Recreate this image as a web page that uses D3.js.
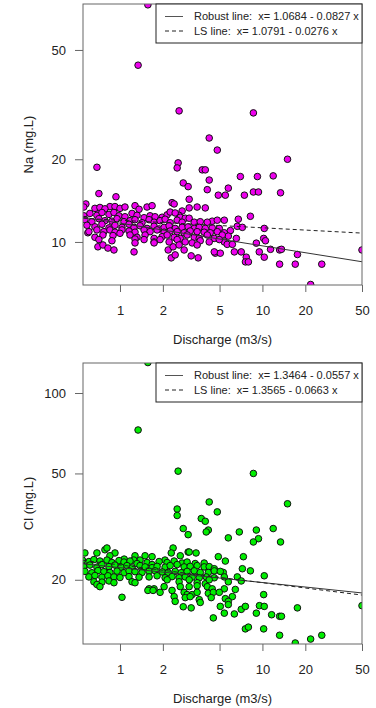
<!DOCTYPE html>
<html>
<head>
<meta charset="utf-8">
<script src="https://cdn.jsdelivr.net/npm/d3@7"></script>
<style>
  html, body { margin: 0; padding: 0; background: #fff; }
  svg { display: block; font-family: "Liberation Sans", Arial, sans-serif; }
  .leg { white-space: pre; }
</style>
</head>
<body>
<svg id="chart" width="376" height="708"></svg>
<script>
// discharge (m3/s), Na (mg.L)
const naPoints = [
  [1.57,73],[1.34,44],[2.60,30.0],[8.64,29.5],[4.23,23.9],[4.82,21.6],[15.0,20.0],[0.689,18.7],
  [2.56,19.4],[2.52,18.6],[3.78,18.3],[3.97,18.3],[4.23,16.8],[7.00,17.3],[9.22,17.3],[11.9,17.4],
  [2.78,16.4],[3.01,15.9],[4.10,15.5],[5.76,15.7],[4.90,14.8],[5.49,14.8],[7.47,14.8],[8.64,15.2],
  [9.38,15.2],[13.4,15.1],[0.711,15.0],[0.937,14.6],[3.06,14.3],[3.48,13.4],[3.97,13.3],[8.23,12.4],
  [6.77,12.1],[5.40,12.0],[4.44,11.9],[10.3,11.2],[6.66,11.4],[7.23,11.3],[5.40,10.8],[5.96,11.0],
  [5.76,10.5],[6.56,10.3],[5.40,10.0],[5.66,9.8],[6.15,9.8],[10.2,10.3],[10.5,10.1],[9.06,9.9],
  [4.67,9.1],[5.06,9.1],[6.35,9.2],[7.1,9.2],[9.5,9.2],[11.4,9.4],[13.2,9.35],[13.6,9.4],
  [17.6,9.0],[7.7,8.8],[10.3,8.8],[7.6,8.46],[7.97,8.46],[13.2,8.3],[17.0,8.3],[26.1,8.3],
  [50,9.35],[21.8,7.0],
  [0.595,10.8],[0.70,9.6],[0.759,9.75],[0.823,9.5],[0.907,9.35],[1.255,9.2],[2.18,9.35],[2.36,9.6],
  [2.29,8.75],[2.44,8.97],[2.82,9.35],[3.16,8.9],[3.54,8.75],[4.59,9.2],
  [0.576,13.75],[0.557,13.4],[0.70,13.1],[0.85,13.45],[0.667,13.25],[0.723,13.35],[0.784,13.2],[0.922,13.45],
  [1.0,13.25],[1.084,13.4],[1.275,13.55],[1.361,13.15],[1.549,13.4],[1.68,13.55],[2.32,13.9],[2.40,13.75],
  [2.73,12.96],[3.06,13.3],[2.60,12.5],
  [0.557,12.45],[0.615,12.7],[0.689,12.5],[0.747,12.8],[0.837,12.6],[0.907,12.8],[0.984,12.45],[1.084,12.35],
  [1.215,12.7],[1.317,12.5],[1.476,12.25],[1.626,12.45],[1.763,12.35],[1.976,12.3],[2.143,12.55],[2.25,12.85],
  [2.44,12.75],[2.65,12.3],[2.87,12.2],
  [0.567,12.05],[0.635,11.85],[0.711,12.15],[0.784,11.95],[0.878,11.9],[0.953,12.15],[1.067,11.85],[1.176,11.95],
  [1.275,12.05],[1.428,11.75],[1.60,12.05],[1.735,11.8],[1.912,11.95],[2.074,12.1],[2.25,11.75],[2.52,12.0],
  [2.73,11.8],[3.06,12.2],[3.32,11.8],[3.66,11.85],[4.10,11.8],[4.82,12.0],
  [0.586,11.5],[0.667,11.35],[0.747,11.6],[0.837,11.25],[0.922,11.5],[1.033,11.3],[1.157,11.6],[1.255,11.3],
  [1.383,11.45],[1.549,11.2],[1.735,11.4],[1.882,11.15],[2.041,11.3],[2.213,11.45],[2.44,11.2],[2.73,11.3],
  [3.01,11.35],[3.32,11.2],[3.60,11.3],[3.97,11.2],[4.44,11.25],[4.98,11.2],
  [0.605,10.9],[0.689,11.06],[0.771,10.9],[0.85,11.06],[0.922,10.85],[1.033,11.06],[1.157,10.96],[1.275,10.85],
  [1.476,11.06],[1.626,10.9],[1.822,11.06],[2.041,10.85],[2.25,10.96],[2.52,10.9],[2.82,10.8],[3.11,10.96],
  [3.48,10.9],[3.90,10.85],[4.30,10.8],[4.82,10.9],
  [0.667,10.4],[0.759,10.6],[0.893,10.55],[1.0,10.75],[1.176,10.6],[1.317,10.4],[1.50,10.6],[1.735,10.3],
  [1.976,10.45],[2.143,10.6],[2.40,10.4],[2.65,10.3],[2.96,10.6],[3.32,10.4],[3.60,10.3],[4.10,10.6],
  [4.59,10.3],[5.22,10.6],
  [0.711,10.2],[0.878,10.1],[1.275,10.25],[1.476,10.2],[1.735,10.0],[1.912,10.2],[2.213,10.0],[2.52,10.2],
  [2.87,10.0],[3.21,9.92],[3.66,10.1],[4.23,10.0],[4.98,10.2],
  [1.275,9.92],[1.735,9.92],[2.60,9.75],[3.48,9.75]
];

// discharge (m3/s), Cl (mg.L)
const clPoints = [
  [1.57,130],[1.34,72.7],[2.56,51],[8.64,50],[4.23,39.1],[15.0,38.5],[4.82,35.9],[2.52,36.8],
  [2.52,34.8],[3.72,33.9],[3.97,33.1],[2.78,31.1],[4.17,30.7],[4.03,30.2],[3.01,29.5],[6.88,30.2],
  [9.06,30.7],[11.9,31.1],[5.76,28.7],[9.38,28.5],[8.64,27.7],[13.4,27.7],[2.36,26.3],[2.29,25.2],
  [3.01,25.4],[3.42,25.2],[7.35,24.4],[4.90,24.4],[5.49,23.5],[7.23,22.0],[8.23,21.6],[10.3,20.7],
  [6.66,20.5],[7.1,19.8],[5.31,21.3],[5.76,19.66],[5.40,18.5],[6.45,18.4],[6.15,17.3],[5.49,17.0],
  [5.76,16.6],[5.76,16.15],[10.2,17.6],[5.06,15.9],[5.40,15.0],[6.35,14.9],[7.1,15.5],[7.59,15.9],
  [9.53,16.0],[10.3,15.9],[9.06,15.0],[17.6,15.7],[11.6,14.8],[13.2,14.6],[13.6,14.6],[7.59,13.1],
  [7.97,13.3],[10.2,13.1],[13.2,12.4],[21.8,12.0],[26.1,12.4],[17.0,11.6],[50,16.0],[4.52,14.4],
  [1.033,17.2],
  [0.567,25.2],[0.689,25.2],[0.784,25.9],[0.81,26.3],[0.922,25.2],[0.85,24.6],[1.275,24.6],[1.50,24.6],
  [1.68,24.4],[1.383,23.7],[2.65,24.6],[3.06,25.4],[1.07,23.9],[1.25,23.7],[2.07,23.7],
  [0.545,23.7],[0.605,23.4],[0.656,23.8],[0.723,23.5],[0.81,23.7],[0.878,23.2],[0.984,23.6],[1.067,23.3],
  [1.176,23.5],[1.317,23.0],[1.549,23.2],[1.68,22.8],[1.882,23.4],[2.143,23.2],[2.40,23.5],[2.73,23.1],
  [2.96,23.3],[3.37,23.0],[3.90,23.1],
  [0.557,22.4],[0.615,22.7],[0.689,22.3],[0.747,22.8],[0.837,22.4],[0.922,22.7],[1.016,22.3],[1.12,22.6],
  [1.215,22.15],[1.383,22.6],[1.50,22.35],[1.68,22.2],[1.822,22.45],[2.074,22.3],[2.25,22.6],[2.52,22.8],
  [2.82,22.35],[3.11,22.45],[3.48,22.6],[3.90,22.35],[4.23,22.4],[4.59,22.0],
  [0.567,21.5],[0.635,21.25],[0.70,21.65],[0.771,21.45],[0.85,21.3],[0.953,21.55],[1.067,21.25],[1.157,21.6],
  [1.275,21.45],[1.428,21.3],[1.60,21.55],[1.763,21.6],[1.976,21.4],[2.178,21.3],[2.44,21.5],[2.69,21.25],
  [2.96,21.5],[3.32,21.6],[3.66,21.3],[4.17,21.3],[4.59,21.6],[5.06,21.5],
  [0.605,20.5],[0.667,20.75],[0.747,20.45],[0.823,20.7],[0.907,20.5],[1.0,20.4],[1.157,20.55],[1.361,20.45],
  [1.60,20.5],[1.822,20.7],[2.074,20.35],[2.32,20.55],[2.60,20.35],[2.87,20.5],[3.21,20.45],[3.60,20.35],
  [4.03,20.5],[4.59,20.35],[5.40,20.5],
  [0.656,19.66],[0.747,19.6],[0.837,19.8],[0.907,19.5],[1.215,19.66],[1.275,19.5],[2.143,20.0],[2.60,19.66],
  [3.06,20.0],[3.48,19.5],[3.97,19.33],[4.23,20.0],
  [0.689,19.2],[0.723,18.85],[1.60,18.5],[1.735,18.5],[2.041,18.85],[2.32,18.25],[2.65,18.85],[3.06,18.85],
  [3.48,19.0],[4.10,18.85],[4.44,18.5],
  [1.57,18.25],[1.707,18.25],[1.912,17.95],[2.40,17.3],[2.82,17.95],[2.96,17.6],[3.21,17.6],[3.48,17.95],
  [4.17,17.8],[4.52,17.95],[4.98,17.95],
  [2.44,16.6],[2.87,17.15],[3.11,17.3],[3.60,16.85],[3.66,16.45],[4.37,17.15],[2.78,15.85],[3.16,15.7]
];

// log10(conc) = a + b * log10(Q)
const naRobust = [1.0684, -0.0827];
const naLS = [1.0791, -0.0276];
const clRobust = [1.3464, -0.0557];
const clLS = [1.3565, -0.0663];

const xTicks = [1, 2, 5, 10, 20, 50];
const naTicks = [10, 20, 50];
const clTicks = [20, 50, 100];

const svg = d3.select("#chart");
svg.append("rect").attr("width", 376).attr("height", 708).attr("fill", "#fff");

function drawPanel(opt) {
  const left = 83, right = 362;
  const top = opt.top, bottom = opt.top + 281;

  const x = d3.scaleLog().domain([0.55, 50]).range([left, right]);
  const y = d3.scaleLog().domain(opt.yDomain).range([bottom, top]);

  const g = svg.append("g");

  g.append("clipPath").attr("id", opt.id)
    .append("rect")
    .attr("x", left).attr("y", top)
    .attr("width", right - left).attr("height", bottom - top);

  // points
  g.append("g").attr("clip-path", "url(#" + opt.id + ")")
    .selectAll("circle")
    .data(opt.points)
    .enter()
    .append("circle")
    .attr("cx", d => x(d[0]))
    .attr("cy", d => y(d[1]))
    .attr("r", 3.3)
    .attr("fill", opt.color)
    .attr("stroke", "#111")
    .attr("stroke-width", 1);

  // fitted lines in log space
  const lineGen = d3.line().x(d => x(d[0])).y(d => y(d[1]));
  const fitLine = (c) => x.domain().map(q => [q, Math.pow(10, c[0] + c[1] * Math.log10(q))]);

  const lines = g.append("g").attr("clip-path", "url(#" + opt.id + ")");
  lines.append("path")
    .attr("d", lineGen(fitLine(opt.robust)))
    .attr("fill", "none").attr("stroke", "#333").attr("stroke-width", 1);
  lines.append("path")
    .attr("d", lineGen(fitLine(opt.ls)))
    .attr("fill", "none").attr("stroke", "#222").attr("stroke-width", 1)
    .attr("stroke-dasharray", "4,3");

  // box
  g.append("rect")
    .attr("x", left).attr("y", top)
    .attr("width", right - left).attr("height", bottom - top)
    .attr("fill", "none").attr("stroke", "#666").attr("stroke-width", 1);

  // axes
  const xAxis = g.append("g")
    .attr("transform", "translate(0," + bottom + ")")
    .call(d3.axisBottom(x).tickValues(xTicks).tickFormat(d3.format("d")).tickSize(7).tickPadding(14));
  const yAxis = g.append("g")
    .attr("transform", "translate(" + left + ",0)")
    .call(d3.axisLeft(y).tickValues(opt.yTicks).tickFormat(d3.format("d")).tickSize(8).tickPadding(9));

  [xAxis, yAxis].forEach(a => {
    a.select(".domain").remove();
    a.selectAll("line").attr("stroke", "#666");
    a.selectAll("text")
      .attr("fill", "#222")
      .style("font-size", "13px")
      .style("font-family", "'Liberation Sans', Arial, sans-serif");
  });

  // axis titles
  g.append("text")
    .attr("x", (left + right) / 2).attr("y", bottom + 54)
    .attr("dy", "0.35em")
    .attr("text-anchor", "middle")
    .attr("fill", "#222")
    .style("font-size", "13px")
    .text("Discharge (m3/s)");

  g.append("text")
    .attr("transform", "translate(28," + (top + bottom) / 2 + ") rotate(-90)")
    .attr("dy", "0.35em")
    .attr("text-anchor", "middle")
    .attr("fill", "#222")
    .style("font-size", "13px")
    .text(opt.yLabel);

  // legend
  const lg = g.append("g");
  lg.append("rect")
    .attr("x", 156).attr("y", top)
    .attr("width", right - 156).attr("height", 39)
    .attr("fill", "#fff").attr("stroke", "#222").attr("stroke-width", 1);

  const rows = [
    { y: top + 12.5, dash: null, label: "Robust line:  x= " + opt.robust[0].toFixed(4) + " - " + Math.abs(opt.robust[1]).toFixed(4) + " x" },
    { y: top + 27, dash: "4,3", label: "LS line:  x= " + opt.ls[0].toFixed(4) + " - " + Math.abs(opt.ls[1]).toFixed(4) + " x" }
  ];
  rows.forEach(r => {
    lg.append("line")
      .attr("x1", 165).attr("x2", 183)
      .attr("y1", r.y).attr("y2", r.y)
      .attr("stroke", r.dash ? "#222" : "#555").attr("stroke-width", 1)
      .attr("stroke-dasharray", r.dash);
    lg.append("text")
      .attr("class", "leg")
      .attr("x", 194).attr("y", r.y)
      .attr("dy", "0.35em")
      .attr("fill", "#222")
      .style("font-size", "11px")
      .text(r.label);
  });
}

drawPanel({
  id: "clipNa", top: 4, yDomain: [6.97, 73.5], yTicks: naTicks,
  points: naPoints, color: "#ee00ee", yLabel: "Na (mg.L)",
  robust: naRobust, ls: naLS
});

drawPanel({
  id: "clipCl", top: 363, yDomain: [11.5, 129.5], yTicks: clTicks,
  points: clPoints, color: "#00ee00", yLabel: "Cl (mg.L)",
  robust: clRobust, ls: clLS
});
</script>
</body>
</html>
